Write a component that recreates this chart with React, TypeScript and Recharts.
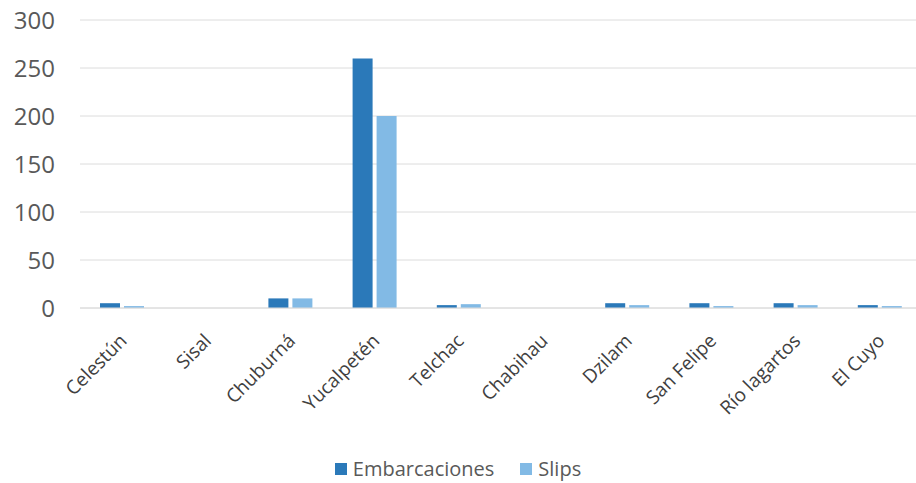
import { Bar, BarChart, CartesianGrid, Legend, XAxis, YAxis } from 'recharts';

const puertos = [
  'Celestún',
  'Sisal',
  'Chuburná',
  'Yucalpetén',
  'Telchac',
  'Chabihau',
  'Dzilam',
  'San Felipe',
  'Río lagartos',
  'El Cuyo',
];
const embarcaciones = [5, 0, 10, 260, 3, 0, 5, 5, 5, 3];
const slips = [2, 0, 10, 200, 4, 0, 3, 2, 3, 2];
const yTicks = [0, 50, 100, 150, 200, 250, 300];

const colors = { emb: '#2B79B9', slips: '#82BAE5', grid: '#DCDCDC', text: '#595959' };
const font = '"Open Sans", "Noto Sans", sans-serif';

const data = puertos.map((name, i) => ({
  name,
  Embarcaciones: embarcaciones[i],
  Slips: slips[i],
}));

function PuertoTick({ x, y, payload }: any) {
  return (
    <g transform={`translate(${x + 6},${y + 34})`}>
      <text
        x={0}
        y={0}
        textAnchor="end"
        transform="rotate(-45)"
        fontSize={19}
        fontFamily={font}
        fill="#404040"
      >
        {payload.value}
      </text>
    </g>
  );
}

function LegendBox() {
  const items = [
    { label: 'Embarcaciones', color: colors.emb },
    { label: 'Slips', color: colors.slips },
  ];
  return (
    <div
      style={{
        display: 'flex',
        justifyContent: 'center',
        gap: 26,
        fontFamily: font,
        fontSize: 20,
        color: colors.text,
      }}
    >
      {items.map((it) => (
        <span key={it.label} style={{ display: 'flex', alignItems: 'center', gap: 6 }}>
          <span style={{ width: 12, height: 12, background: it.color, display: 'inline-block' }} />
          {it.label}
        </span>
      ))}
    </div>
  );
}

export default function App() {
  return (
    <div style={{ position: 'absolute', left: 0, top: 0, width: 916, height: 483, background: '#fff' }}>
      <BarChart
        width={916}
        height={483}
        data={data}
        margin={{ top: 20, right: -6, left: 0, bottom: 0 }}
        barSize={20}
        barGap={4}
      >
        <CartesianGrid vertical={false} stroke={colors.grid} />
        <XAxis
          dataKey="name"
          height={175}
          interval={0}
          tickLine={false}
          tickSize={0}
          tickMargin={0}
          axisLine={{ stroke: colors.grid }}
          tick={<PuertoTick />}
        />
        <YAxis
          width={80}
          domain={[0, 300]}
          ticks={yTicks}
          axisLine={false}
          tickLine={false}
          tickSize={0}
          tickMargin={25}
          tick={{ fontSize: 24, fontFamily: font, fill: colors.text }}
        />
        <Legend
          verticalAlign="middle"
          align="center"
          wrapperStyle={{ top: 455, left: 0, width: 916 }}
          content={<LegendBox />}
        />
        <Bar dataKey="Embarcaciones" fill={colors.emb} isAnimationActive={false} />
        <Bar dataKey="Slips" fill={colors.slips} isAnimationActive={false} />
      </BarChart>
    </div>
  );
}
